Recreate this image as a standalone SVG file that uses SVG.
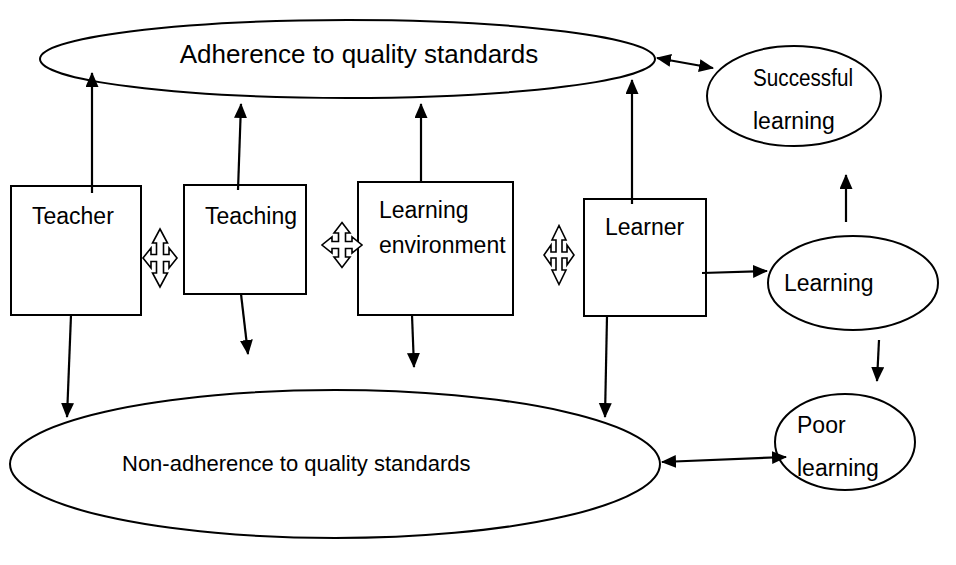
<svg xmlns="http://www.w3.org/2000/svg" width="956" height="565" viewBox="0 0 956 565">
  <style>
    .shape { fill: #ffffff; stroke: #000000; stroke-width: 2; }
    .label { font-family: "Liberation Sans", Arial, sans-serif; font-size: 23px; fill: #000000; }
    .big { font-size: 26px; }
    .wide { font-size: 22px; }
    .link { fill: none; stroke: #000000; stroke-width: 2.2; }
    .quad { fill: #ffffff; stroke: #000000; stroke-width: 1.6; stroke-linejoin: miter; }
  </style>
  <defs>
    <marker id="head" markerUnits="userSpaceOnUse" markerWidth="16" markerHeight="14" refX="14" refY="6.5" orient="auto-start-reverse">
      <path d="M0,0 L15,6.5 L0,13 Z" fill="#000000"/>
    </marker>
  </defs>

  <rect width="956" height="565" fill="#ffffff"/>

  <!-- outcome ellipses -->
  <g id="adherence">
    <ellipse class="shape" cx="347.5" cy="59" rx="307.5" ry="39"/>
    <text class="label big" x="359" y="63" text-anchor="middle">Adherence to quality standards</text>
  </g>
  <g id="non-adherence">
    <ellipse class="shape" cx="335" cy="464" rx="325" ry="74"/>
    <text class="label wide" x="122" y="471">Non-adherence to quality standards</text>
  </g>
  <g id="successful-learning">
    <ellipse class="shape" cx="794" cy="96" rx="87" ry="50"/>
    <text class="label" x="753" y="86" textLength="100" lengthAdjust="spacingAndGlyphs">Successful</text>
    <text class="label" x="753" y="129">learning</text>
  </g>
  <g id="learning">
    <ellipse class="shape" cx="853" cy="283" rx="85" ry="47"/>
    <text class="label" x="784" y="291">Learning</text>
  </g>
  <g id="poor-learning">
    <ellipse class="shape" cx="845" cy="442" rx="70" ry="48"/>
    <text class="label" x="797" y="433">Poor</text>
    <text class="label" x="797" y="476">learning</text>
  </g>

  <!-- factor boxes -->
  <g id="teacher">
    <rect class="shape" x="11" y="186" width="130" height="129"/>
    <text class="label" x="32" y="224">Teacher</text>
  </g>
  <g id="teaching">
    <rect class="shape" x="184" y="185" width="122" height="109"/>
    <text class="label" x="205" y="224">Teaching</text>
  </g>
  <g id="learning-environment">
    <rect class="shape" x="358" y="182" width="155" height="133"/>
    <text class="label" x="379" y="218">Learning</text>
    <text class="label" x="379" y="253">environment</text>
  </g>
  <g id="learner">
    <rect class="shape" x="584" y="199" width="122" height="117"/>
    <text class="label" x="605" y="235">Learner</text>
  </g>

  <!-- two-way interaction symbols between neighbouring factors -->
  <g id="interactions">
    <path class="quad" transform="translate(160,258)" d="M0,-29 L7.5,-15 L3.5,-15 L3.5,-3.5 L9,-3.5 L9,-10 L17,0 L9,10 L9,3.5 L3.5,3.5 L3.5,15 L7.5,15 L0,29 L-7.5,15 L-3.5,15 L-3.5,3.5 L-9,3.5 L-9,10 L-17,0 L-9,-10 L-9,-3.5 L-3.5,-3.5 L-3.5,-15 L-7.5,-15 Z"/>
    <path class="quad" transform="translate(342,245)" d="M0,-22.5 L8,-12 L3.5,-12 L3.5,-3.5 L10,-3.5 L10,-8 L20,0 L10,8 L10,3.5 L3.5,3.5 L3.5,12 L8,12 L0,22.5 L-8,12 L-3.5,12 L-3.5,3.5 L-10,3.5 L-10,8 L-20,0 L-10,-8 L-10,-3.5 L-3.5,-3.5 L-3.5,-12 L-8,-12 Z"/>
    <path class="quad" transform="translate(559,255)" d="M0,-29.5 L7,-15 L3,-15 L3,-3 L8,-3 L8,-10 L15,0 L8,10 L8,3 L3,3 L3,15 L7,15 L0,29.5 L-7,15 L-3,15 L-3,3 L-8,3 L-8,10 L-15,0 L-8,-10 L-8,-3 L-3,-3 L-3,-15 L-7,-15 Z"/>
  </g>

  <!-- connectors -->
  <g id="connectors">
    <line class="link" x1="92" y1="193" x2="92" y2="73" marker-end="url(#head)"/>
    <line class="link" x1="238" y1="190" x2="241" y2="104" marker-end="url(#head)"/>
    <line class="link" x1="421" y1="182" x2="421" y2="104" marker-end="url(#head)"/>
    <line class="link" x1="632" y1="204" x2="632" y2="80" marker-end="url(#head)"/>
    <line class="link" x1="657" y1="58" x2="713" y2="68" marker-start="url(#head)" marker-end="url(#head)"/>
    <line class="link" x1="846" y1="222" x2="846" y2="175" marker-end="url(#head)"/>
    <line class="link" x1="702" y1="273" x2="767" y2="271" marker-end="url(#head)"/>
    <line class="link" x1="879" y1="340" x2="877" y2="381" marker-end="url(#head)"/>
    <line class="link" x1="71" y1="315" x2="67" y2="417" marker-end="url(#head)"/>
    <line class="link" x1="241" y1="294" x2="248" y2="354" marker-end="url(#head)"/>
    <line class="link" x1="412" y1="315" x2="414" y2="367" marker-end="url(#head)"/>
    <line class="link" x1="607" y1="316" x2="605" y2="417" marker-end="url(#head)"/>
    <line class="link" x1="662" y1="462" x2="786" y2="457" marker-start="url(#head)" marker-end="url(#head)"/>
  </g>
</svg>
